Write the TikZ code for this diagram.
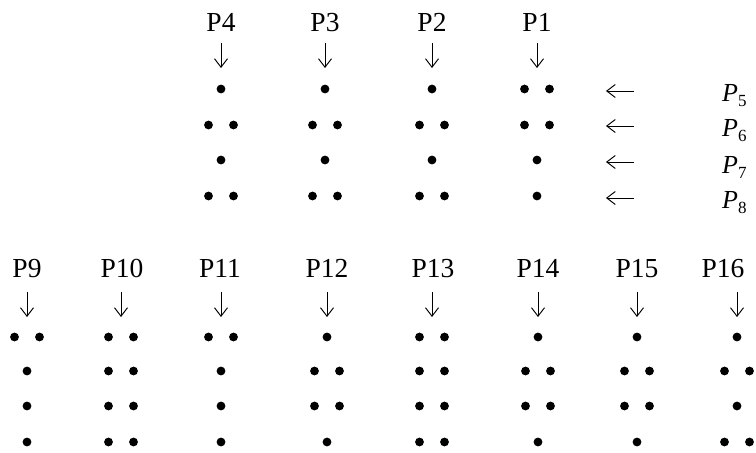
\documentclass[tikz,border=0pt]{standalone}
\usepackage{fontspec}
\setmainfont{Liberation Serif}
\usetikzlibrary{arrows.meta}
\tikzset{
  dot/.style={circle,fill=black,draw=none,inner sep=0pt,minimum size=8.8pt},
  lab/.style={font=\fontsize{27.5}{30}\selectfont,inner sep=0pt,anchor=base},
  plab/.style={font=\fontsize{26}{30}\selectfont,inner sep=0pt,anchor=base west},
  darr/.style={-{Straight Barb[length=8.5pt,width=13pt,line width=0.95pt]},line width=0.95pt},
}
% #1 name, #2 x, #3 y, #4 number of dots (1 or 2)
\newcommand\brrow[4]{%
  \ifnum#4=1
    \node[dot] (#1) at (#2,#3) {};
  \else
    \node[dot] (#1a) at (#2-12.5,#3) {};
    \node[dot] (#1b) at (#2+12.5,#3) {};
  \fi}
% #1 id, #2 x, #3-#6 row counts; rows y given by \ya..\yd
\newcommand\brcol[6]{%
  \brrow{r#1x1}{#2}{\ya}{#3}%
  \brrow{r#1x2}{#2}{\yb}{#4}%
  \brrow{r#1x3}{#2}{\yc}{#5}%
  \brrow{r#1x4}{#2}{\yd}{#6}%
  \coordinate (c#1) at (#2,\ya);}
\begin{document}
\begin{tikzpicture}[x=1pt,y=-1pt]
\useasboundingbox (0,0) rectangle (756,453);
% ---------- top group ----------
\def\ya{89}\def\yb{125}\def\yc{160}\def\yd{196}
\node[lab] (l4) at (221,31) {P4};
\node[lab] (l3) at (325,31) {P3};
\node[lab] (l2) at (432,31) {P2};
\node[lab] (l1) at (537,31) {P1};
\brcol{4}{221}{1}{2}{1}{2}
\brcol{3}{325}{1}{2}{1}{2}
\brcol{2}{432}{1}{2}{1}{2}
\brcol{1}{537}{2}{2}{1}{1}
\foreach \k in {1,2,3,4}{
  \draw[darr,shorten <=12pt,shorten >=21pt] (l\k.south -| c\k) -- (c\k);
}
% right side labels
\node[plab] (p5) at (722,101) {\textit{P}\raisebox{-5pt}{\fontsize{17}{20}\selectfont 5}};
\node[plab] (p6) at (722,136) {\textit{P}\raisebox{-5pt}{\fontsize{17}{20}\selectfont 6}};
\node[plab] (p7) at (722,173) {\textit{P}\raisebox{-5pt}{\fontsize{17}{20}\selectfont 7}};
\node[plab] (p8) at (722,208) {\textit{P}\raisebox{-5pt}{\fontsize{17}{20}\selectfont 8}};
\coordinate (e5) at (606,91);
\coordinate (e6) at (606,126);
\coordinate (e7) at (606,162);
\coordinate (e8) at (606,198);
\foreach \k in {5,6,7,8}{
  \draw[darr,shorten <=88pt] (p\k.west |- e\k) -- (e\k);
}
% ---------- bottom group ----------
\def\ya{337}\def\yb{371}\def\yc{406}\def\yd{442}
\node[lab] (l9)  at (27,277)  {P9};
\node[lab] (l10) at (122,277) {P10};
\node[lab] (l11) at (220,277) {P11};
\node[lab] (l12) at (327,277) {P12};
\node[lab] (l13) at (433,277) {P13};
\node[lab] (l14) at (538,277) {P14};
\node[lab] (l15) at (637,277) {P15};
\node[lab] (l16) at (723,277) {P16};
\brcol{9}{27}{2}{1}{1}{1}
\brcol{10}{121}{2}{2}{2}{2}
\brcol{11}{221}{2}{1}{1}{1}
\brcol{12}{327}{1}{2}{2}{1}
\brcol{13}{432}{2}{2}{2}{2}
\brcol{14}{538}{1}{2}{2}{1}
\brcol{15}{637}{1}{2}{2}{1}
\brcol{16}{737}{1}{2}{1}{2}
\foreach \k in {9,...,16}{
  \draw[darr,shorten <=15pt,shorten >=20pt] (l\k.south -| c\k) -- (c\k);
}
\end{tikzpicture}
\end{document}
